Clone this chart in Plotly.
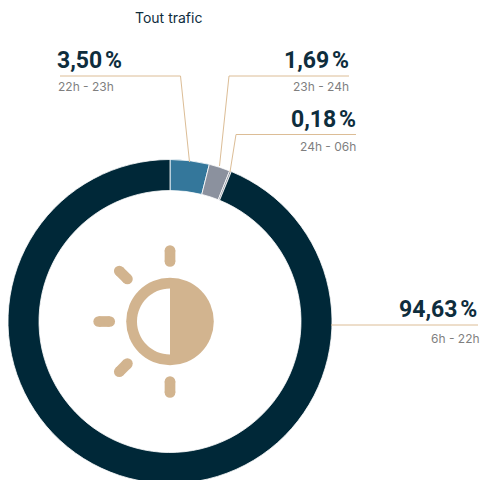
import plotly.graph_objects as go

periods = ["22h - 23h", "23h - 24h", "24h - 06h", "6h - 22h"]
arc_shares = [3.9, 2.1, 0.18, 93.82]
printed_values = ["3,50\u202f%", "1,69\u202f%", "0,18\u202f%", "94,63\u202f%"]
slice_colors = ["#34779b", "#8b919e", "#8b919e", "#002838"]
subtitle = "Tout trafic"

W, H = 480, 500
DARK, GREY, TAN, LEAD = "#0e2d3d", "#7f7f7f", "#d2b48f", "#dcbd96"
cx, cy, R = 170, 321.5, 162

fig = go.Figure()
fig.add_trace(go.Pie(
    values=arc_shares, labels=periods, sort=False, direction="clockwise", rotation=0,
    hole=131 / 162, textinfo="none", hoverinfo="label",
    marker=dict(colors=slice_colors, line=dict(color="white", width=0.8)),
    domain=dict(x=[(cx - R) / W, (cx + R) / W], y=[1 - (cy + R) / H, 1 - (cy - R) / H]),
    showlegend=False,
))

shapes = []
def polyline(pts):
    path = "M" + " L".join(f"{x},{y}" for x, y in pts)
    shapes.append(dict(type="path", path=path, xref="x", yref="y",
                       line=dict(color=LEAD, width=1), fillcolor="rgba(0,0,0,0)"))

polyline([(60, 76), (180.5, 76), (189.5, 162)])
polyline([(349, 76), (229, 76), (219.5, 166)])
polyline([(356, 134.5), (236, 134.5), (230, 172)])
polyline([(331, 325), (478, 325)])

def disc(x, y, r, color):
    shapes.append(dict(type="circle", xref="x", yref="y", x0=x - r, x1=x + r,
                       y0=y - r, y1=y + r, fillcolor=color, line=dict(width=0)))

def ray(x0, y0, x1, y1):
    shapes.append(dict(type="line", xref="x", yref="y", x0=x0, y0=y0, x1=x1, y1=y1,
                       line=dict(color=TAN, width=10.7)))
    disc(x0, y0, 5.35, TAN)
    disc(x1, y1, 5.35, TAN)

ix, iy = 170, 321.5
ray(ix, 250.5, ix, 261.5)
ray(ix, 381.5, ix, 392.5)
ray(98.7, iy, 109.7, iy)
ray(119.3, 271, 127.4, 279)
ray(127.4, 363.6, 119.3, 371.7)
disc(ix, iy, 43.8, TAN)
r, k = 33, 33 * 0.5523
shapes.append(dict(
    type="path", xref="x", yref="y", fillcolor="white", line=dict(width=0),
    path=(f"M{ix},{iy - r} C{ix - k},{iy - r} {ix - r},{iy - k} {ix - r},{iy} "
          f"C{ix - r},{iy + k} {ix - k},{iy + r} {ix},{iy + r} Z"),
))

def label(x, y, text, size, color, anchor, bold=False, family="Inter"):
    fig.add_annotation(x=x, y=y, xref="x", yref="y", text=f"<b>{text}</b>" if bold else text,
                       showarrow=False, xanchor=anchor, yanchor="middle",
                       font=dict(family=family, size=size, color=color), borderpad=0, borderwidth=0)

label(168, 17, subtitle, 14, DARK, "center")
label(57, 60, printed_values[0], 23, DARK, "left", True, "Roboto")
label(349, 60, printed_values[1], 23, DARK, "right", True, "Roboto")
label(356, 119, printed_values[2], 23, DARK, "right", True, "Roboto")
label(477, 309, printed_values[3], 23, DARK, "right", True, "Roboto")
label(58, 86.5, periods[0], 12, GREY, "left")
label(349, 86.5, periods[1], 12, GREY, "right")
label(356, 146, periods[2], 12, GREY, "right")
label(480, 338, periods[3], 12, GREY, "right")

fig.update_layout(
    width=W, height=H, autosize=False, margin=dict(l=0, r=0, t=0, b=0),
    paper_bgcolor="white", plot_bgcolor="rgba(0,0,0,0)", shapes=shapes,
    xaxis=dict(range=[0, W], visible=False, fixedrange=True),
    yaxis=dict(range=[H, 0], visible=False, fixedrange=True),
)
fig.write_html("out.html", config=dict(displayModeBar=False),
               post_script="document.documentElement.style.overflow='hidden';"
                           "document.body.style.overflow='hidden';document.body.style.margin='0';")
